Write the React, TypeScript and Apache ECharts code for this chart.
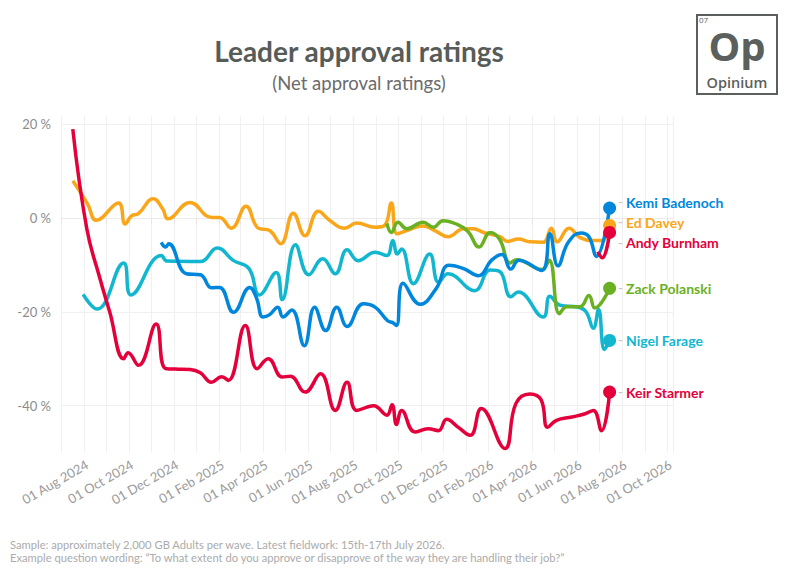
import React, { useEffect, useRef } from 'react';
import * as echarts from 'echarts';

type Point = [string, number];

// Net approval by fieldwork date (%)
const starmer: Point[] = [
  ['2024-07-17', 18.9], ['2024-08-05', -2.3], ['2024-08-23', -13], ['2024-09-05', -20],
  ['2024-09-24', -30], ['2024-09-30', -28.7], ['2024-10-14', -31.4], ['2024-11-07', -22.6],
  ['2024-11-19', -32], ['2024-12-03', -32.2], ['2024-12-23', -32.3], ['2025-01-06', -33],
  ['2025-01-21', -35], ['2025-02-04', -33.8], ['2025-02-13', -34.6], ['2025-03-08', -22.9],
  ['2025-03-24', -32.1], ['2025-04-08', -30], ['2025-04-27', -33.9], ['2025-05-08', -33.7],
  ['2025-05-28', -37.1], ['2025-06-18', -33.2], ['2025-07-08', -41], ['2025-07-24', -35],
  ['2025-08-06', -41], ['2025-08-29', -40], ['2025-09-16', -42], ['2025-09-23', -39.8],
  ['2025-09-29', -44], ['2025-10-06', -41], ['2025-10-24', -45.6], ['2025-11-11', -44.9],
  ['2025-11-25', -45.3], ['2025-12-06', -42.9], ['2025-12-21', -44.5], ['2026-01-07', -46.3],
  ['2026-01-22', -40.6], ['2026-02-23', -49.1], ['2026-03-10', -39.5], ['2026-03-29', -37.5],
  ['2026-04-13', -38.7], ['2026-04-22', -44.6], ['2026-05-04', -43.1], ['2026-05-25', -42.4],
  ['2026-06-12', -41.7], ['2026-06-23', -41], ['2026-07-04', -45.3], ['2026-07-15', -37.1],
];

const davey: Point[] = [
  ['2024-07-17', 7.9], ['2024-08-06', 3.0], ['2024-08-18', -0.5], ['2024-09-17', 3.2],
  ['2024-09-26', -1.3], ['2024-10-05', 0.5], ['2024-10-14', 0.9], ['2024-11-03', 4.1],
  ['2024-11-16', 1.9], ['2024-11-23', -0.2], ['2024-12-23', 3.3], ['2025-01-21', 0.1],
  ['2025-02-01', 0.1], ['2025-02-17', -2.2], ['2025-03-09', 2.5], ['2025-03-25', -2.1],
  ['2025-04-10', -2.7], ['2025-04-25', -5.5], ['2025-05-12', 1.0], ['2025-05-28', -3.8],
  ['2025-06-15', 1.4], ['2025-07-01', -0.6], ['2025-07-21', -2.2], ['2025-08-06', -1.1],
  ['2025-08-31', -2.0], ['2025-09-13', -1.6], ['2025-09-22', 3.2], ['2025-09-30', -3.4],
  ['2025-10-13', -2.7], ['2025-11-04', -1.7], ['2025-11-20', -2.7], ['2025-12-08', -4.0],
  ['2025-12-29', -2.3], ['2026-01-11', -2.3], ['2026-01-25', -3.1], ['2026-02-16', -4.0],
  ['2026-02-27', -5.0], ['2026-03-13', -4.5], ['2026-03-29', -5.1], ['2026-04-16', -5.2],
  ['2026-04-27', -2.2], ['2026-05-05', -5.1], ['2026-05-21', -2.2], ['2026-06-05', -4.2],
  ['2026-06-21', -4.8], ['2026-07-05', -4.8], ['2026-07-15', -1.6],
];

const badenoch: Point[] = [
  ['2024-11-14', -5.2], ['2024-11-20', -6.2], ['2024-11-24', -5.5], ['2024-12-18', -11.9],
  ['2025-01-06', -12.1], ['2025-01-21', -14.9], ['2025-02-01', -14.8], ['2025-02-20', -20.1],
  ['2025-03-14', -14.8], ['2025-03-23', -17.0], ['2025-04-01', -21.1], ['2025-04-10', -20.6],
  ['2025-04-21', -19.0], ['2025-04-28', -21.1], ['2025-05-10', -19.6], ['2025-05-27', -27.2],
  ['2025-06-10', -19.0], ['2025-06-25', -24.0], ['2025-07-10', -19.0], ['2025-07-24', -23.1],
  ['2025-08-15', -18.3], ['2025-08-31', -19.0], ['2025-09-17', -21.9], ['2025-09-24', -22.3],
  ['2025-09-29', -22.9], ['2025-10-08', -13.9], ['2025-10-31', -18.4], ['2025-11-22', -15.0],
  ['2025-12-09', -10.1], ['2025-12-29', -10.8], ['2026-01-18', -12.3], ['2026-02-05', -9.0],
  ['2026-02-19', -7.8], ['2026-03-03', -10.9], ['2026-03-14', -9.0], ['2026-04-14', -11.2],
  ['2026-04-25', -3.4], ['2026-05-06', -10.2], ['2026-05-20', -5.2], ['2026-06-06', -3.2],
  ['2026-06-17', -4.0], ['2026-06-27', -8.2], ['2026-07-15', 2.1],
];

const farage: Point[] = [
  ['2024-07-31', -16.3], ['2024-08-19', -19.4], ['2024-09-24', -9.6], ['2024-10-04', -16.4],
  ['2024-11-14', -8.0], ['2024-11-22', -9.2], ['2025-01-06', -9.3], ['2025-01-29', -6.4],
  ['2025-02-20', -9.1], ['2025-03-13', -10.8], ['2025-03-27', -16.4], ['2025-04-19', -11.6],
  ['2025-04-27', -17.4], ['2025-05-15', -5.7], ['2025-06-02', -12.1], ['2025-06-21', -8.7],
  ['2025-07-08', -11.9], ['2025-07-24', -6.8], ['2025-08-08', -9.1], ['2025-08-31', -7.3],
  ['2025-09-16', -8.0], ['2025-09-24', -4.8], ['2025-09-30', -7.7], ['2025-10-06', -6.6],
  ['2025-10-22', -14.0], ['2025-11-13', -7.7], ['2025-11-25', -13.7], ['2025-12-08', -11.9],
  ['2026-01-13', -15.5], ['2026-02-03', -11.1], ['2026-02-16', -11.4], ['2026-03-03', -16.8],
  ['2026-03-13', -15.8], ['2026-04-16', -21.1], ['2026-04-25', -16.7], ['2026-05-09', -18.6],
  ['2026-06-02', -19.0], ['2026-06-13', -20.0], ['2026-06-23', -23.5], ['2026-06-30', -19.5],
  ['2026-07-08', -28.0], ['2026-07-15', -26.1],
];

const polanski: Point[] = [
  ['2025-09-16', -1.2], ['2025-09-22', -3.1], ['2025-10-01', -0.9], ['2025-10-13', -2.3],
  ['2025-11-04', -0.9], ['2025-11-18', -2.0], ['2025-12-01', -0.6], ['2025-12-19', -1.3],
  ['2026-01-04', -2.9], ['2026-01-19', -6.2], ['2026-02-03', -3.1], ['2026-02-16', -4.6],
  ['2026-03-02', -9.6], ['2026-03-11', -8.9], ['2026-04-14', -11.0], ['2026-04-24', -9.0],
  ['2026-05-08', -20.4], ['2026-05-18', -18.9], ['2026-06-05', -18.9], ['2026-06-17', -16.5],
  ['2026-06-25', -19.2], ['2026-07-15', -15.0],
];

const burnham: Point[] = [
  ['2026-06-29', -7.2], ['2026-07-05', -8.5], ['2026-07-15', -3.1],
];

const yTicks = [-40, -20, 0, 20];
const MONTHS = ['Jan', 'Feb', 'Mar', 'Apr', 'May', 'Jun', 'Jul', 'Aug', 'Sep', 'Oct', 'Nov', 'Dec'];

const FOOTER_1 = 'Sample: approximately 2,000 GB Adults per wave. Latest fieldwork: 15th-17th July 2026.';
const FOOTER_2 = 'Example question wording: \u201cTo what extent do you approve or disapprove of the way they are handling their job?\u201d';

const DAY = 24 * 3600 * 1000;
const LOGO = '#5b605d';

function leader(name: string, data: Point[], color: string, labelDy: number) {
  const last = data.length - 1;
  return {
    type: 'line',
    name,
    smooth: 0.45,
    symbol: 'none',
    showSymbol: true,
    showAllSymbol: true,
    lineStyle: { width: 3.5, color },
    itemStyle: { color },
    emphasis: { disabled: true },
    data: data.map((p, i) =>
      i === last ? { value: p, symbol: 'circle', symbolSize: 13 } : p
    ),
    endLabel: {
      show: true,
      formatter: `{d|-} {n|${name}}`,
      distance: 8.5,
      rich: {
        d: { color: '#c2c2c2', fontFamily: 'Lato', fontSize: 13, lineHeight: 18 },
        n: { color, fontFamily: 'Lato', fontWeight: 'bold', fontSize: 14, lineHeight: 18 },
      },
    },
    labelLayout: { dy: labelDy },
  };
}

export default function App() {
  const ref = useRef<HTMLDivElement>(null);

  useEffect(() => {
    if (!ref.current) return;
    const chart = echarts.init(ref.current, null, { renderer: 'svg' });

    chart.setOption({
      animation: false,
      backgroundColor: '#ffffff',
      textStyle: { fontFamily: 'Lato' },
      title: {
        text: 'Leader approval ratings',
        subtext: '(Net approval ratings)',
        left: 354,
        top: 32,
        textAlign: 'center',
        itemGap: 8,
        textStyle: { fontFamily: 'Lato', fontSize: 28, fontWeight: 'bold', color: '#575c59' },
        subtextStyle: { fontFamily: 'Lato', fontSize: 18.5, color: '#6b6b6b' },
      },
      grid: { left: 61, right: 122, top: 116, bottom: 122.3, outerBoundsMode: 'none', containLabel: false },
      xAxis: {
        type: 'time',
        min: '2024-07-01',
        max: '2026-10-09',
        splitNumber: 27,
        minInterval: 28 * DAY,
        maxInterval: 31 * DAY,
        axisLine: { show: true, lineStyle: { color: '#ebebeb', width: 1 } },
        axisTick: { show: true, length: 7, lineStyle: { color: '#e6e6e6' } },
        splitLine: { show: true, lineStyle: { color: '#f0f0f0', width: 1 } },
        axisLabel: {
          rotate: 30,
          margin: 5,
          verticalAlign: 'top',
          color: '#9a9a9a',
          fontFamily: 'Lato',
          fontSize: 13,
          hideOverlap: false,
          formatter: (v: number) => {
            const d = new Date(v);
            if (d.getMonth() % 2 === 0) return '';
            return `${String(d.getDate()).padStart(2, '0')} ${MONTHS[d.getMonth()]} ${d.getFullYear()}`;
          },
        },
      },
      yAxis: {
        type: 'value',
        min: -50,
        max: 21.7,
        axisLine: { show: false },
        axisTick: { show: false, customValues: yTicks },
        splitLine: { show: true, lineStyle: { color: '#f0f0f0', width: 1 } },
        axisLabel: {
          customValues: yTicks,
          margin: 10,
          color: '#8c8c8c',
          fontFamily: 'Lato',
          fontSize: 13,
          formatter: (v: number) => `${v} %`,
        },
      },
      series: [
        leader('Ed Davey', davey, '#faa61a', -3),
        leader('Nigel Farage', farage, '#12b6cf', 0),
        leader('Zack Polanski', polanski, '#6ab023', 0),
        leader('Kemi Badenoch', badenoch, '#0087dc', -6),
        leader('Keir Starmer', starmer, '#e4003b', 0),
        leader('Andy Burnham', burnham, '#e4003b', 10.5),
      ],
      graphic: [
        {
          type: 'rect',
          shape: { x: 697, y: 15, width: 80, height: 79 },
          style: { fill: 'none', stroke: LOGO, lineWidth: 2 },
        },
        {
          type: 'text',
          x: 699,
          y: 15,
          style: { text: '07', fill: LOGO, fontSize: 8, lineHeight: 8, fontFamily: 'Open Sans' },
        },
        {
          type: 'text',
          x: 737,
          y: 45,
          style: {
            text: 'Op', fill: LOGO, fontSize: 40, lineHeight: 32, fontWeight: 'bold', fontFamily: 'Open Sans',
            textAlign: 'center', textVerticalAlign: 'middle',
          },
        },
        {
          type: 'text',
          x: 737,
          y: 82,
          style: {
            text: 'Opinium', fill: LOGO, fontSize: 14.5, lineHeight: 14, fontWeight: 600, fontFamily: 'Open Sans',
            textAlign: 'center', textVerticalAlign: 'middle',
          },
        },
        {
          type: 'text',
          x: 10,
          y: 539,
          style: { text: FOOTER_1, fill: '#ababab', fontSize: 11.2, fontFamily: 'Lato' },
        },
        {
          type: 'text',
          x: 10,
          y: 552,
          style: { text: FOOTER_2, fill: '#ababab', fontSize: 11.2, fontFamily: 'Lato' },
        },
      ],
    });

    return () => chart.dispose();
  }, []);

  return (
    <div
      ref={ref}
      style={{ position: 'absolute', left: 0, top: 0, width: 795, height: 575 }}
    />
  );
}
